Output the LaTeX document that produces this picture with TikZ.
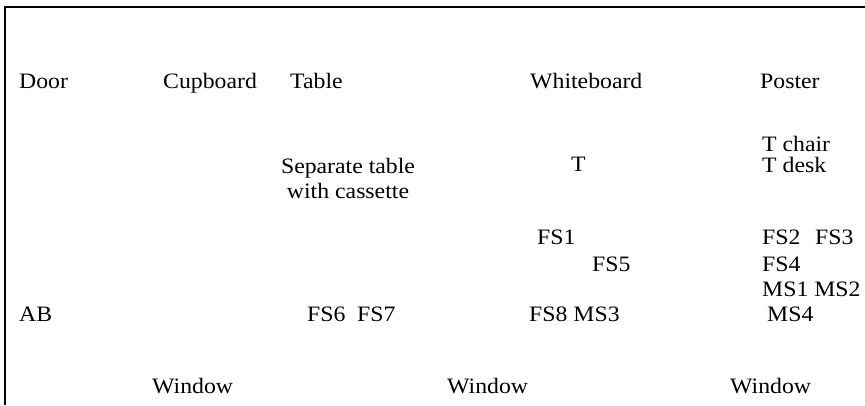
\documentclass[tikz,border=0pt]{standalone}
\usepackage{fontspec}
\setmainfont{Liberation Serif}[FakeStretch=1.08]
\begin{document}
\begin{tikzpicture}[x=1pt,y=-1pt,
  lbl/.style={inner sep=0pt,anchor=base west,font=\fontsize{22}{25}\selectfont},
  wall/.style={line width=1.4pt}]
\useasboundingbox (0,0) rectangle (865,405);
\coordinate (tl) at (5,7);
\coordinate (tr) at (865,7);
\coordinate (bl) at (5,405);
\draw[wall] (tr) -- (tl) -- (bl);
% first row
\node[lbl] (door) at (19,88) {Door};
\node[lbl] (cupboard) at (163,88) {Cupboard};
\node[lbl] (table) at (290,88) {Table};
\node[lbl] (whiteboard) at (530,88) {Whiteboard};
\node[lbl] (poster) at (760,88) {Poster};
% teacher
\node[lbl] (tchair) at (762,151) {T chair};
\node[lbl] (tdesk) at (762,172) {T desk};
\node[inner sep=0pt,align=center,font=\fontsize{22}{25}\selectfont,anchor=center] (sep) at (348,178) {Separate table\\with cassette};
\node[lbl] (t) at (571,171) {T};
% students
\node[lbl] (fs1) at (537,244) {FS1};
\node[lbl] (fs5) at (592,271) {FS5};
\node[lbl] (fs2) at (762,244) {FS2};
\node[lbl] (fs3) at (815,244) {FS3};
\node[lbl] (fs4) at (762,271) {FS4};
\node[lbl] (ms1ms2) at (762,296) {MS1 MS2};
\node[lbl] (ab) at (19,321) {AB};
\node[lbl] (fs6) at (307,321) {FS6};
\node[lbl] (fs7) at (357,321) {FS7};
\node[lbl] (fs8ms3) at (529,321) {FS8 MS3};
\node[lbl] (ms4) at (767,321) {MS4};
% windows
\node[lbl] (win1) at (152,393) {Window};
\node[lbl] (win2) at (447,393) {Window};
\node[lbl] (win3) at (730,393) {Window};
\end{tikzpicture}
\end{document}
